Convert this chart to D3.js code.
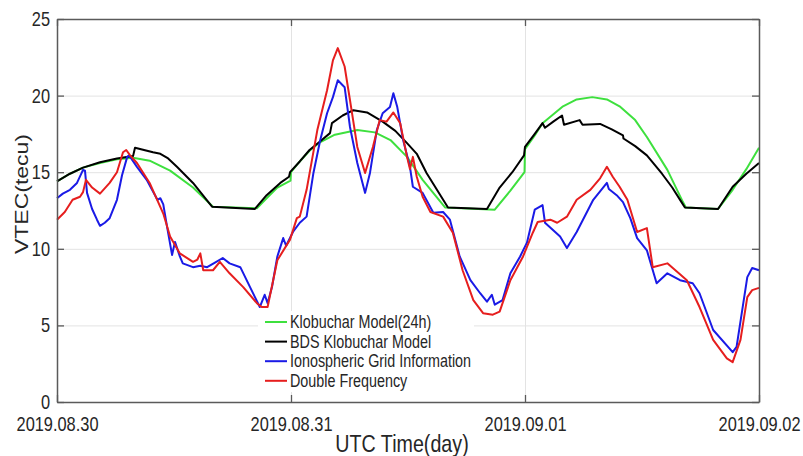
<!DOCTYPE html>
<html>
<head>
<meta charset="utf-8">
<script src="https://cdn.jsdelivr.net/npm/d3@7"></script>
<style>
  body { margin: 0; background: #fff; }
  text { font-family: "Liberation Sans", Arial, sans-serif; fill: #262626; }
</style>
</head>
<body>
<div id="chart"></div>
<script>
// hours since 2019-08-30 00:00 UTC, VTEC in TECU
var dayLabels = ["2019.08.30", "2019.08.31", "2019.09.01", "2019.09.02"];
var dayTicks = [0, 24, 48, 72];
var vtecTicks = [0, 5, 10, 15, 20, 25];

var kloHours = [0, 1.33, 2.67, 4.41, 6.15, 7.8, 9.5, 11.6, 13.95, 16.0, 20.5, 21.5, 22.6, 23.95,
    24.0, 24.9, 25.9, 26.97, 28.5, 30.8, 32.6, 34.2, 35.9, 37.5, 39.8, 44.9, 46.5, 47.95,
    48.0, 49.0, 49.8, 51.9, 53.3, 54.9, 56.4, 57.7, 59.3, 60.5, 62.6, 64.2, 64.5, 67.8, 69.3, 70.7, 72];
var kloVtec = [14.4, 14.9, 15.3, 15.6, 15.85, 15.95, 15.75, 15.1, 14.0, 12.75, 12.65, 13.3, 14.0, 14.45,
    15.0, 15.7, 16.4, 16.95, 17.45, 17.75, 17.6, 17.1, 16.0, 14.5, 12.7, 12.55, 13.8, 15.0,
    16.5, 17.4, 18.2, 19.3, 19.75, 19.9, 19.75, 19.3, 18.4, 17.3, 15.15, 13.05, 12.7, 12.6, 13.85, 15.2, 16.6];

var bdsHours = [0, 1.33, 2.67, 4.41, 6.15, 7.8, 8.0, 9.85, 10.6, 11.4, 12.3, 13.95, 15.9, 20.3, 21.5, 22.9,
    23.8, 23.9, 24.9, 25.9, 26.97, 28.0, 28.2, 29.3, 30.4, 31.8, 33.4, 34.7, 35.9, 36.9, 37.9, 40.1,
    44.1, 45.4, 46.7, 47.9, 48.0, 49.0, 49.8, 50.05, 50.9, 51.8, 52.0, 53.6, 53.9, 55.7, 56.9, 58.05,
    58.1, 59.3, 60.5, 62.05, 63.1, 64.1, 64.4, 67.8, 69.3, 70.7, 72];
var bdsVtec = [14.4, 14.9, 15.3, 15.65, 15.9, 16.05, 16.6, 16.3, 16.2, 15.9, 15.35, 14.3, 12.75, 12.6, 13.5, 14.3,
    14.7, 15.0, 15.7, 16.45, 17.0, 17.55, 18.2, 18.7, 19.05, 18.9, 18.3, 17.7, 16.9, 16.2, 14.95, 12.7,
    12.6, 14.0, 15.0, 16.1, 16.65, 17.5, 18.2, 17.9, 18.3, 18.7, 18.1, 18.4, 18.1, 18.15, 17.8, 17.4,
    17.2, 16.7, 16.1, 14.9, 14.0, 13.0, 12.7, 12.6, 14.05, 14.9, 15.6];

var gimHours = [0, 0.6, 1.33, 2.05, 2.67, 2.87, 3.08, 3.6, 4.1, 4.41, 4.9, 5.4, 6.15, 6.67, 7.2, 7.4, 8.2,
    9.2, 10.3, 10.6, 10.9, 11.3, 11.8, 12.1, 12.6, 12.9, 13.95, 14.7, 15.4, 16.2, 17.0, 17.7, 18.8,
    19.8, 20.8, 21.3, 21.6, 22.05, 22.6, 23.2, 23.5, 24.2, 24.9, 25.6, 26.3, 27.0, 27.7, 28.3, 28.8,
    29.5, 30.05, 30.8, 31.6, 32.1, 32.8, 33.4, 34.15, 34.5, 34.9, 35.5, 36.2, 36.5, 37.5, 38.6, 39.6,
    40.3, 41.3, 42.4, 43.4, 44.1, 44.6, 44.9, 45.7, 46.5, 47.5, 48.2, 49.0, 49.8, 50.05, 51.6, 52.3,
    53.3, 55.0, 56.4, 56.6, 57.4, 58.05, 58.8, 59.5, 60.5, 61.5, 62.6, 63.9, 65.2, 65.9, 67.3, 69.3,
    69.7, 70.8, 71.3, 72];
var gimVtec = [13.3, 13.6, 13.85, 14.3, 15.15, 15.1, 13.65, 12.6, 11.9, 11.5, 11.7, 12.0, 13.2, 14.8, 16.0, 16.1, 15.35,
    14.5, 13.2, 13.3, 12.9, 11.4, 9.6, 10.45, 9.5, 9.05, 8.8, 8.9, 8.8, 9.1, 9.4, 9.05, 8.8,
    7.5, 6.2, 7.0, 6.45, 7.5, 9.5, 10.7, 10.2, 11.1, 11.7, 12.1, 14.95, 17.1, 18.85, 19.9, 21.0,
    20.55, 17.95, 15.6, 13.65, 14.95, 17.75, 18.85, 19.25, 20.15, 19.25, 17.1, 15.35, 14.05, 13.65, 12.35, 12.4,
    11.9, 9.5, 7.95, 7.1, 6.55, 7.0, 6.35, 6.65, 8.4, 9.5, 10.4, 12.55, 12.85, 11.7, 10.8, 10.05,
    11.1, 13.2, 14.3, 13.9, 13.5, 13.05, 12.0, 10.7, 9.9, 7.75, 8.4, 7.95, 7.75, 7.1, 4.7, 3.25,
    3.6, 8.15, 8.75, 8.6];

var dfHours = [0, 0.8, 1.6, 2.36, 2.67, 2.97, 3.6, 4.41, 5.4, 6.15, 6.77, 7.1, 7.5, 8.2, 9.5, 10.9, 11.6,
    12.6, 13.95, 14.4, 14.7, 15.0, 16.0, 16.7, 17.7, 19.1, 20.5, 21.0, 21.6, 22.6, 23.9, 24.6, 24.9,
    25.6, 26.7, 27.7, 28.3, 28.8, 29.5, 30.05, 30.8, 31.6, 32.4, 33.1, 33.8, 34.5, 35.2, 35.9, 36.2,
    36.5, 36.9, 37.5, 38.3, 39.6, 40.6, 41.6, 42.7, 43.7, 44.7, 45.4, 46.5, 47.8, 48.8, 49.3, 50.6,
    51.3, 52.3, 53.3, 54.7, 55.7, 56.4, 57.0, 57.7, 58.5, 59.5, 60.5, 61.1, 62.6, 63.6, 64.6, 65.9,
    67.3, 68.7, 69.3, 70.1, 70.8, 71.3, 72];
var dfVtec = [11.9, 12.4, 13.2, 13.4, 13.7, 14.5, 14.0, 13.6, 14.3, 15.0, 16.3, 16.45, 16.1, 15.6, 14.3, 12.3, 10.8,
    9.7, 9.15, 9.3, 9.7, 8.6, 8.6, 9.15, 8.4, 7.5, 6.45, 6.2, 6.2, 9.25, 10.6, 12.0, 12.1,
    13.85, 17.75, 20.35, 22.3, 23.1, 21.9, 19.7, 16.65, 14.95, 16.65, 18.4, 18.3, 18.9, 18.2, 16.0, 15.2,
    16.0, 14.7, 13.4, 12.4, 12.1, 11.05, 8.6, 6.65, 5.8, 5.7, 5.9, 7.95, 9.5, 11.05, 11.75, 11.9,
    11.7, 12.1, 13.2, 13.85, 14.6, 15.35, 14.7, 14.05, 13.2, 11.1, 11.35, 8.8, 9.05, 8.5, 7.95, 6.2,
    4.05, 2.85, 2.6, 4.05, 6.85, 7.3, 7.45];

var series = [
    { name: "Klobuchar Model(24h)", color: "#3ee03e", hours: kloHours, vtec: kloVtec },
    { name: "BDS Klobuchar Model", color: "#000000", hours: bdsHours, vtec: bdsVtec },
    { name: "Ionospheric Grid Information", color: "#1a1ae6", hours: gimHours, vtec: gimVtec },
    { name: "Double Frequency", color: "#e61e1e", hours: dfHours, vtec: dfVtec }
];

var W = 803, H = 456;
var margin = { top: 19, right: 44, bottom: 54, left: 57 };
var width = W - margin.left - margin.right;
var height = H - margin.top - margin.bottom;
var sx = 0.82; // text in the picture is horizontally squeezed

var svg = d3.select("#chart").append("svg")
    .attr("width", W)
    .attr("height", H);

var g = svg.append("g")
    .attr("transform", "translate(" + margin.left + "," + margin.top + ")");

var x = d3.scaleLinear().domain([0, 72]).range([0, width]);
var y = d3.scaleLinear().domain([0, 25]).range([height, 0]);

// grid
g.append("g")
    .attr("class", "grid")
    .call(d3.axisLeft(y).tickValues(vtecTicks.slice(1, -1)).tickSize(-width).tickFormat(""))
    .call(function (s) { s.select(".domain").remove(); })
    .selectAll("line").attr("stroke", "#e3e3e3");
g.append("g")
    .attr("class", "grid")
    .attr("transform", "translate(0," + height + ")")
    .call(d3.axisBottom(x).tickValues(dayTicks.slice(1, -1)).tickSize(-height).tickFormat(""))
    .call(function (s) { s.select(".domain").remove(); })
    .selectAll("line").attr("stroke", "#e3e3e3");

// lines
var line = d3.line()
    .x(function (d) { return x(d[0]); })
    .y(function (d) { return y(d[1]); });

series.forEach(function (s) {
    var pts = s.hours.map(function (h, i) { return [h, s.vtec[i]]; });
    g.append("path")
        .datum(pts)
        .attr("fill", "none")
        .attr("stroke", s.color)
        .attr("stroke-width", 2)
        .attr("stroke-linejoin", "round")
        .attr("d", line);
});

// axes with inward ticks
var axisColor = "#5a5a5a";
var yAxis = g.append("g")
    .call(d3.axisLeft(y).tickValues(vtecTicks).tickSizeInner(-7).tickSizeOuter(0).tickPadding(7));
yAxis.selectAll("text")
    .attr("x", null)
    .attr("font-size", 20)
    .attr("transform", "translate(-7,0) scale(" + sx + ",1)");

var xAxis = g.append("g")
    .attr("transform", "translate(0," + height + ")")
    .call(d3.axisBottom(x).tickValues(dayTicks).tickSizeInner(-7).tickSizeOuter(0)
        .tickFormat(function (d, i) { return dayLabels[i]; }));
xAxis.selectAll("text")
    .attr("y", null)
    .attr("dy", null)
    .attr("font-size", 20)
    .attr("transform", "translate(0,29) scale(" + sx + ",1)");

g.append("g")
    .call(d3.axisTop(x).tickValues(dayTicks).tickSizeInner(-7).tickSizeOuter(0).tickFormat(""));
g.append("g")
    .attr("transform", "translate(" + width + ",0)")
    .call(d3.axisRight(y).tickValues(vtecTicks).tickSizeInner(-7).tickSizeOuter(0).tickFormat(""));

g.selectAll(".domain").attr("stroke", axisColor).attr("stroke-width", 1.5);
g.selectAll(".tick line").filter(function () { return this.parentNode.parentNode.getAttribute("class") !== "grid"; })
    .attr("stroke", axisColor).attr("stroke-width", 1.3);

// axis titles
svg.append("text")
    .attr("text-anchor", "middle")
    .attr("font-size", 24)
    .attr("transform", "translate(402,452) scale(" + sx + ",1)")
    .text("UTC Time(day)");

svg.append("text")
    .attr("text-anchor", "middle")
    .attr("font-size", 23)
    .attr("transform", "translate(28,194) scale(" + sx + ",1) rotate(-90)")
    .text("VTEC(tecu)");

// legend
var legend = svg.append("g").attr("transform", "translate(258,311)");
legend.append("rect")
    .attr("width", 216)
    .attr("height", 81)
    .attr("fill", "#fff");
series.forEach(function (s, i) {
    var row = legend.append("g").attr("transform", "translate(0," + (11 + i * 19.6) + ")");
    row.append("line")
        .attr("x1", 7).attr("x2", 29)
        .attr("stroke", s.color).attr("stroke-width", 2);
    row.append("text")
        .attr("font-size", 17.5)
        .attr("dy", "0.35em")
        .attr("transform", "translate(32,0) scale(" + sx + ",1)")
        .text(s.name);
});
</script>
</body>
</html>
